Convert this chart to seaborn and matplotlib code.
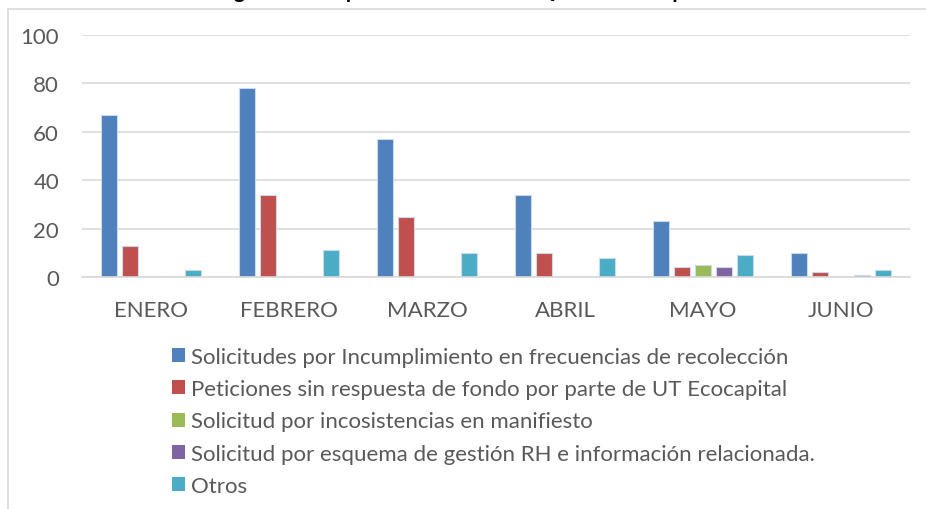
import matplotlib
matplotlib.use("Agg")
import matplotlib.pyplot as plt
from matplotlib.patches import Patch, Rectangle
import seaborn as sns
import pandas as pd

months = ["ENERO", "FEBRERO", "MARZO", "ABRIL", "MAYO", "JUNIO"]
series_names = [
    "Solicitudes por Incumplimiento en frecuencias de recolección",
    "Peticiones sin respuesta de fondo por parte de UT Ecocapital",
    "Solicitud por incosistencias en manifiesto",
    "Solicitud por esquema de gestión RH e información relacionada.",
    "Otros",
]
incumplimiento = [67, 78, 57, 34, 23, 10]
peticiones = [13, 34, 25, 10, 4, 2]
manifiesto = [0, 0, 0, 0, 5, 0]
esquema_rh = [0, 0, 0, 0, 4, 1]
otros = [3, 11, 10, 8, 9, 3]
y_ticks = [0, 20, 40, 60, 80, 100]
title = "Figura 3. Comportamiento de las PQRS UT Ecocapital"

colors = ["#4F81BD", "#C0504D", "#9BBB59", "#8064A2", "#4BACC6"]

rows = []
for name, vals in zip(series_names, [incumplimiento, peticiones, manifiesto, esquema_rh, otros]):
    for m, v in zip(months, vals):
        rows.append({"mes": m, "serie": name, "valor": v})
df = pd.DataFrame(rows)

sns.set_style("white")
plt.rcParams["font.family"] = ["Lato", "DejaVu Sans"]

fig = plt.figure(figsize=(9.26, 5.10), dpi=100)
ax = fig.add_axes([82 / 926, 1 - 278 / 510, 828 / 926, (278 - 36) / 510])

sns.barplot(data=df, x="mes", y="valor", hue="serie", order=months,
            hue_order=series_names, palette=colors, saturation=1,
            width=0.76, gap=0.2, edgecolor="#C9DAEE", linewidth=0.8,
            ax=ax, legend=False)

ax.set_ylim(0, 100)
ax.set_xlim(-0.5, 5.5)
ax.set_yticks(y_ticks)
ax.yaxis.grid(True, color="#D9D9D9", linewidth=1.2)
ax.set_axisbelow(True)
for s in ["left", "right", "top"]:
    ax.spines[s].set_visible(False)
ax.spines["bottom"].set_color("#D9D9D9")
ax.spines["bottom"].set_linewidth(1.2)
ax.set_xlabel("")
ax.set_ylabel("")
ax.tick_params(axis="both", length=0, labelsize=16, colors="#595959")
ax.tick_params(axis="y", pad=16.5)
ax.tick_params(axis="x", pad=16.5)

handles = [Patch(facecolor=c, edgecolor="none") for c in colors]
fig.legend(handles, series_names, loc="upper left",
           bbox_to_anchor=(172 / 926, 1 - 348 / 510), frameon=False,
           fontsize=16, handlelength=0.6, handleheight=0.6,
           handletextpad=0.25, labelspacing=0.55, borderpad=0,
           borderaxespad=0, labelcolor="#595959")

fig.patches.append(Rectangle((8 / 926, -0.1), 1.2, 1 - 10 / 510 + 0.1,
                             transform=fig.transFigure, fill=False,
                             edgecolor="#D9D9D9", linewidth=1.2))

fig.text(0.502, 1 + 1.5 / 510, title, ha="center", va="baseline",
         fontsize=15, fontweight="bold", color="#000000")

fig.savefig("out.png", dpi=100)
